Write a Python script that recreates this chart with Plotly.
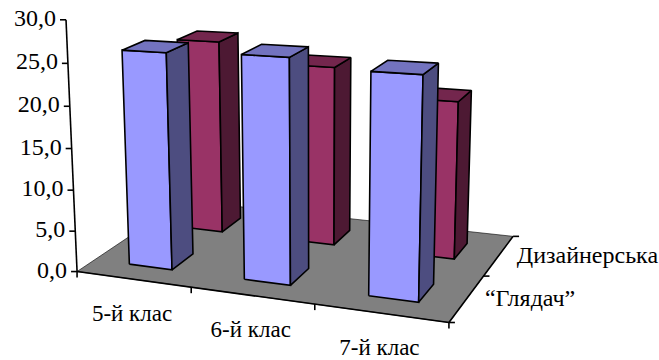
import numpy as np
import plotly.graph_objects as go

categories = ["5-й клас", "6-й клас", "7-й клас"]
series_names = ["“Глядач”", "Дизайнерська"]
glyadach = [25.9, 26.2, 25.2]
dyzainerska = [24.3, 22.0, 18.9]
value_ticks = [0, 5, 10, 15, 20, 25, 30]

# Camera for the box: (category, series, value) -> pixel position.
world_anchor = [(0, 0, 0), (3, 0, 0), (3, 2, 0), (0, 2, 0), (0, 0, 30), (3, 0, 30)]
pixel_anchor = [(77, 272), (449, 322), (513, 237), (183, 200), (66, 20), (456, 39)]


def solve_camera(world, pixels):
    rows = []
    for (a, b, c), (u, v) in zip(world, pixels):
        rows.append([a, b, c, 1, 0, 0, 0, 0, -u * a, -u * b, -u * c, -u])
        rows.append([0, 0, 0, 0, a, b, c, 1, -v * a, -v * b, -v * c, -v])
    return np.linalg.svd(np.array(rows, float))[2][-1].reshape(3, 4)


CAMERA = solve_camera(world_anchor, pixel_anchor)


def project(a, b, c):
    p = CAMERA @ np.array([a, b, c, 1.0])
    return float(p[0] / p[2]), float(p[1] / p[2])


fig = go.Figure()


def face(corners, fill, line_width=1.6):
    pts = [project(*c) for c in corners]
    pts.append(pts[0])
    fig.add_trace(go.Scatter(
        x=[p[0] for p in pts], y=[p[1] for p in pts], mode="lines",
        fill="toself", fillcolor=fill,
        line=dict(color="black", width=line_width), hoverinfo="skip",
    ))


def segment(p, q, width=1.6):
    fig.add_trace(go.Scatter(
        x=[p[0], q[0]], y=[p[1], q[1]], mode="lines",
        line=dict(color="black", width=width), hoverinfo="skip",
    ))


def label(x, y, text, position, size=24):
    fig.add_trace(go.Scatter(
        x=[x], y=[y], mode="text", text=[text], textposition=position,
        textfont=dict(family="Liberation Serif", size=size, color="black"),
        hoverinfo="skip", cliponaxis=False,
    ))


def bar(i, j, value, colors):
    x0, x1 = i + 0.315, i + 0.695
    y0, y1 = j + 0.3, j + 0.7
    front, side, top = colors
    face([(x0, y0, 0), (x1, y0, 0), (x1, y0, value), (x0, y0, value)], front)
    face([(x1, y0, 0), (x1, y1, 0), (x1, y1, value), (x1, y0, value)], side)
    face([(x0, y0, value), (x1, y0, value), (x1, y1, value), (x0, y1, value)], top)


# Floor, then its darker front and right edges
face([(0, 0, 0), (3, 0, 0), (3, 2, 0), (0, 2, 0)], "#808080", 0.6)
segment(project(0, 0, 0), project(3, 0, 0))
segment(project(3, 0, 0), project(3, 2, 0))

# Value axis
segment(project(0, 0, 0), project(0, 0, 30))
for t in value_ticks:
    px, py = project(0, 0, t)
    segment((px - 6, py), (px, py))
    label(px - 10, py, f"{t},0", "middle left")

# Category and series axes
for i in range(len(categories) + 1):
    px, py = project(i, 0, 0)
    segment((px, py), (px, py + 6))
for j in range(len(series_names) + 1):
    px, py = project(3, j, 0)
    segment((px, py), (px + 6, py))
for i, name in enumerate(categories):
    px, py = project(i + 0.5, 0, 0)
    label(px - 1, py + 36, name, "middle center", size=23)
for j, name in enumerate(series_names):
    px, py = project(3, j + 0.5, 0)
    label(px + 18, py + 2, name, "middle right")

# Back row first so the front row overlaps it
for i, v in enumerate(dyzainerska):
    bar(i, 1, v, ("#993366", "#4D1933", "#73264D"))
for i, v in enumerate(glyadach):
    bar(i, 0, v, ("#9999FF", "#4D4D80", "#7373BF"))

fig.update_layout(
    width=659, height=360, margin=dict(l=0, r=0, t=0, b=0),
    paper_bgcolor="white", plot_bgcolor="white", showlegend=False,
    font=dict(family="Liberation Serif", color="black"),
    xaxis=dict(range=[0, 659], visible=False, fixedrange=True),
    yaxis=dict(range=[360, 0], visible=False, fixedrange=True),
)
fig.write_html("out.html", config=dict(displayModeBar=False))
